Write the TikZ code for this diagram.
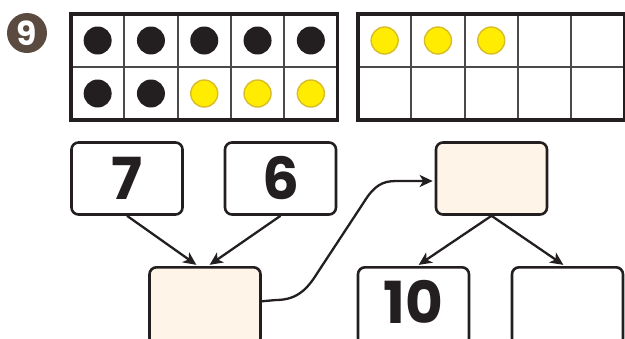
\documentclass[tikz,border=0pt]{standalone}
\usepackage{fontspec}
\newfontfamily\numfont{Poppins}
\usetikzlibrary{arrows.meta}
\definecolor{ink}{HTML}{231F20}
\definecolor{peach}{HTML}{FEF5E8}
\definecolor{brownc}{HTML}{5B4A40}
\definecolor{yel}{HTML}{FFEC00}
\definecolor{yelb}{HTML}{D8BC2A}
\definecolor{gridc}{HTML}{4A4A4A}
\tikzset{
 numtext/.style={font=\numfont\bfseries\fontsize{58}{58}\selectfont, text=ink},
 box/.style={draw=ink, line width=2.6pt, rounded corners=7pt, minimum width=111pt, minimum height=72pt, fill=white, inner sep=0pt, numtext},
 lowbox/.style={minimum height=78pt, anchor=north},
 pbox/.style={box, fill=peach},
 arr/.style={draw=ink, line width=2.3pt, -{Stealth[length=13pt,width=12pt,inset=3.5pt]}},
 bdot/.style={circle, fill=ink, minimum size=28pt, inner sep=0pt},
 ydot/.style={circle, fill=yel, draw=yelb, line width=1.4pt, minimum size=27pt, inner sep=0pt},
 gridline/.style={draw=gridc, line width=1.8pt},
 framebox/.style={draw=ink, line width=3.5pt},
}
\begin{document}
\begin{tikzpicture}[x=1pt,y=-1pt]
\useasboundingbox (0,0) rectangle (625,338);
% number badge
\node[circle, fill=brownc, minimum size=40pt, inner sep=0pt, text=white, font=\numfont\bfseries\fontsize{33}{33}\selectfont] (num) at (27,33) {9};
% ten frames
\foreach \fx in {71,358}{
  \foreach \i in {1,...,4}{
    \draw[gridline] (\fx+53.3*\i,14) -- (\fx+53.3*\i,120);
  }
  \draw[gridline] (\fx,67) -- (\fx+266.5,67);
  \draw[framebox] (\fx,14) rectangle (\fx+266.5,120);
}
% dots frame 1
\foreach \i in {0,...,4}{
  \node[bdot] at (71+53.3*\i+26.65,40.5) {};
}
\foreach \i in {0,1}{
  \node[bdot] at (71+53.3*\i+26.65,93.5) {};
}
\foreach \i in {2,3,4}{
  \node[ydot] at (71+53.3*\i+26.65,93.5) {};
}
% dots frame 2
\foreach \i in {0,1,2}{
  \node[ydot] at (358+53.3*\i+26.65,40.5) {};
}
% boxes
\node[box] (b7) at (127,178.5) {7};
\node[box] (b6) at (280.5,178.5) {6};
\node[pbox, lowbox] (sum) at (205,266) {};
\node[pbox] (top) at (491.5,178.5) {};
\node[box, lowbox] (b10) at (413.5,266) {};
\node[numtext, inner sep=0pt] (t10) at (413.5,302) {10};
\node[box, lowbox] (bempty) at (567.5,266) {};
% arrows
\draw[arr, shorten >=2pt] (b7.south) -- ([xshift=-7pt]sum.north);
\draw[arr, shorten >=2pt] (b6.south) -- ([xshift=3pt]sum.north);
\draw[arr, shorten >=2pt] (top.south) -- ([xshift=3.5pt]b10.north);
\draw[arr, shorten >=2pt] (top.south) -- ([xshift=-2.5pt]bempty.north);
\draw[arr, shorten >=2pt] ([yshift=5pt]sum.east) -- (276,300) .. controls (298,300) and (308,288) .. (318,272)
  -- (364,202) .. controls (374,186) and (382,181) .. (396,181) -- ([yshift=-2.5pt]top.west);
\end{tikzpicture}
\end{document}
